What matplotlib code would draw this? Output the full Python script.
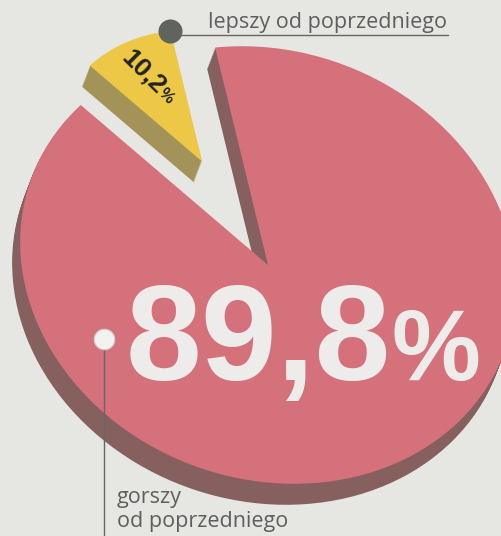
import matplotlib
matplotlib.use("Agg")
import matplotlib.pyplot as plt
from matplotlib.transforms import Affine2D
import numpy as np

# dane
udzialy = [10.2, 89.8]
opis_lepszy = "lepszy od poprzedniego"
opis_gorszy = ["gorszy", "od poprzedniego"]
kolory_gora = ["#ecc846", "#d5717a"]
kolory_bok = ["#a39358", "#86605f"]

W, H = 502, 536
fig = plt.figure(figsize=(W / 100, H / 100), dpi=100)
fig.patch.set_facecolor("#e6e6e2")
ax = fig.add_axes([0, 0, 1, 1])
ax.set_facecolor("#e6e6e2")

# geometria "3D" tortu (elipsa obrocona, przesuniecie = grubosc)
cx, cy = 268, 265
a, b, obrot = 252, 214, -20
start = 119.5
wysuniecie = 0.52
promien_maly = 0.6
gleb_x, gleb_y = -8, 21


def rzut(dx=0.0, dy=0.0):
    return (Affine2D().scale(a, b).rotate_deg(obrot).scale(1, -1)
            .translate(cx + dx, cy + dy) + ax.transData)


def rysuj_tort(kolory, dx, dy, z):
    wedges, _ = ax.pie(udzialy, colors=kolory, startangle=start,
                       explode=[wysuniecie, 0], counterclock=True,
                       wedgeprops=dict(linewidth=0))
    wedges[0].set_radius(promien_maly)
    for i, w in enumerate(wedges):
        w.set_transform(rzut(dx, dy))
        w.set_zorder(z + 2 * (1 - i))
    return wedges


# boki (kilka przesunietych kopii), potem wierzch
for k in np.linspace(1, 0.05, 14):
    rysuj_tort(kolory_bok, k * gleb_x, k * gleb_y, 1)
rysuj_tort(kolory_gora, 0, 0, 2)

ax.set_xlim(0, W)
ax.set_ylim(H, 0)
ax.set_aspect("auto")
ax.axis("off")

# punkty odniesienia liczone z geometrii tortu
t0 = np.deg2rad(start)
tm = np.deg2rad(start + udzialy[0] / 100 * 180)
p_zolty = np.array([wysuniecie * np.cos(tm) + promien_maly * np.cos(t0),
                    wysuniecie * np.sin(tm) + promien_maly * np.sin(t0)])
p_czerw = np.array([0.78 * np.cos(np.deg2rad(229)), 0.78 * np.sin(np.deg2rad(229))])
T = Affine2D().scale(a, b).rotate_deg(obrot).scale(1, -1).translate(cx, cy)
zx, zy = T.transform(p_zolty)
rx, ry = T.transform(p_czerw)

szary = "#666666"
ax.plot([zx, 448], [zy + 4, zy + 4], color=szary, lw=1, zorder=6)
ax.scatter([zx], [zy], s=300, color="#5f645f", zorder=7, linewidths=0)
ax.plot([rx, rx], [ry, H], color=szary, lw=1, zorder=6)
ax.scatter([rx], [ry], s=220, color="#f2f2f0", edgecolors="#cfc9c9",
           linewidths=0.8, zorder=7)

ax.text(208, 28, opis_lepszy, fontsize=15.5, family="Open Sans",
        color="#5e5e5e", ha="left", va="baseline", zorder=8)
ax.text(117, 503, opis_gorszy[0], fontsize=15.5, family="Open Sans",
        color="#5e5e5e", ha="left", va="baseline", zorder=8)
ax.text(117, 527, opis_gorszy[1], fontsize=15.5, family="Open Sans",
        color="#5e5e5e", ha="left", va="baseline", zorder=8)

duzy = f"{udzialy[1]:.1f}".replace(".", ",")
maly = f"{udzialy[0]:.1f}".replace(".", ",")
ax.text(126, 380, duzy, fontsize=98, weight="bold", family="Liberation Sans",
        color="#eeeceb", ha="left", va="baseline", zorder=8)
ax.text(392, 380, "%", fontsize=72, weight="bold", family="Liberation Sans",
        color="#eeeceb", ha="left", va="baseline", zorder=8)

ax.text(143, 72, maly, fontsize=19, weight="bold", family="Liberation Sans",
        color="#222222", ha="center", va="center", rotation=-45,
        rotation_mode="anchor", zorder=8)
ax.text(166, 96, "%", fontsize=12, weight="bold", family="Liberation Sans",
        color="#222222", ha="center", va="center", rotation=-45,
        rotation_mode="anchor", zorder=8)

fig.savefig("out.png", dpi=100, facecolor=fig.get_facecolor())
